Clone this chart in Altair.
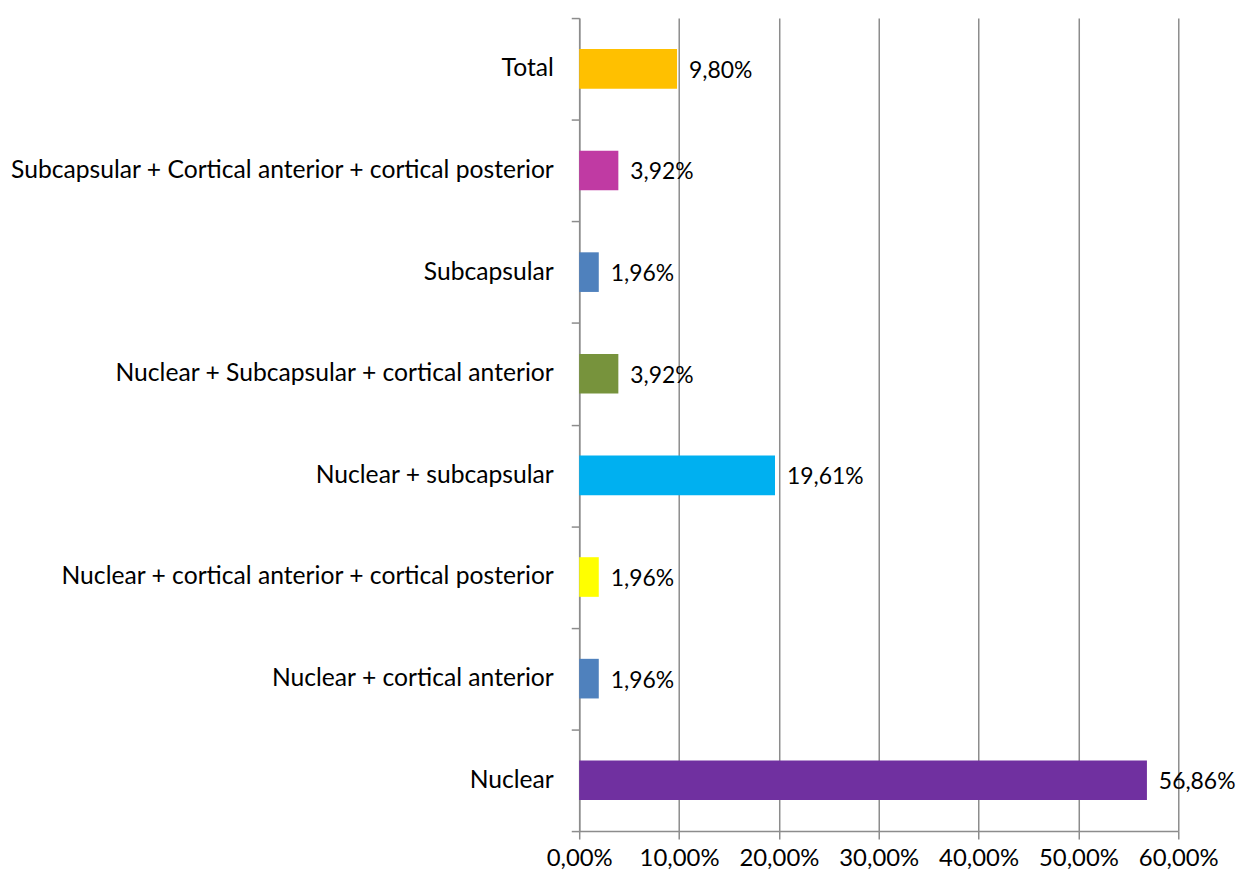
import altair as alt
import pandas as pd

categories = [
    "Total",
    "Subcapsular + Cortical anterior + cortical posterior",
    "Subcapsular",
    "Nuclear + Subcapsular + cortical anterior",
    "Nuclear + subcapsular",
    "Nuclear + cortical anterior + cortical posterior",
    "Nuclear + cortical anterior",
    "Nuclear",
]
values = [0.0980, 0.0392, 0.0196, 0.0392, 0.1961, 0.0196, 0.0196, 0.5686]
labels = ["9,80%", "3,92%", "1,96%", "3,92%", "19,61%", "1,96%", "1,96%", "56,86%"]
colors = ["#FFC000", "#C03AA3", "#4F81BD", "#77933C", "#00B0F0", "#FFFF00", "#4F81BD", "#7030A0"]
x_ticks = [0, 0.1, 0.2, 0.3, 0.4, 0.5, 0.6]

df = pd.DataFrame({"cat": categories, "val": values, "lab": labels, "col": colors})

FONT = "Lato"
FS = 24
GRAY = "#8c8c8c"

y = alt.Y("cat:N", sort=categories, title=None,
          scale=alt.Scale(paddingInner=0, paddingOuter=0),
          axis=alt.Axis(tickBand="extent", tickSize=8, tickColor=GRAY, tickWidth=1.5,
                        domainColor=GRAY, domainWidth=1.5, labelPadding=18,
                        labelFontSize=24.8, labelFont=FONT, labelColor="#000000",
                        labelLimit=700, grid=False))
x = alt.X("val:Q", title=None,
          scale=alt.Scale(domain=[0, 0.6], nice=False),
          axis=alt.Axis(values=x_ticks, labelOverlap=False, labelFlush=False,
                        labelExpr="replace(format(datum.value, '.2%'), '.', ',')",
                        grid=True, gridColor=GRAY, gridWidth=1.5,
                        tickSize=8, tickColor=GRAY, tickWidth=1.5,
                        domainColor=GRAY, domainWidth=1.5, labelPadding=8,
                        labelFontSize=FS, labelFont=FONT, labelColor="#000000"))

bars = alt.Chart(df).mark_bar(height={"band": 0.39}).encode(
    x=x, y=y, color=alt.Color("col:N", scale=None)
)
text = alt.Chart(df).mark_text(align="left", baseline="middle", dx=12, dy=2,
                               fontSize=23, font=FONT, color="#000000").encode(
    x="val:Q", y=alt.Y("cat:N", sort=categories), text="lab:N"
)

chart = (bars + text).properties(
    width=602, height=817,
    autosize=alt.AutoSizeParams(type="none"),
    padding={"left": 574, "top": 8, "right": 58, "bottom": 38},
).configure_view(stroke=None)

chart.save("out.html", embed_options={"renderer": "svg", "actions": False})
